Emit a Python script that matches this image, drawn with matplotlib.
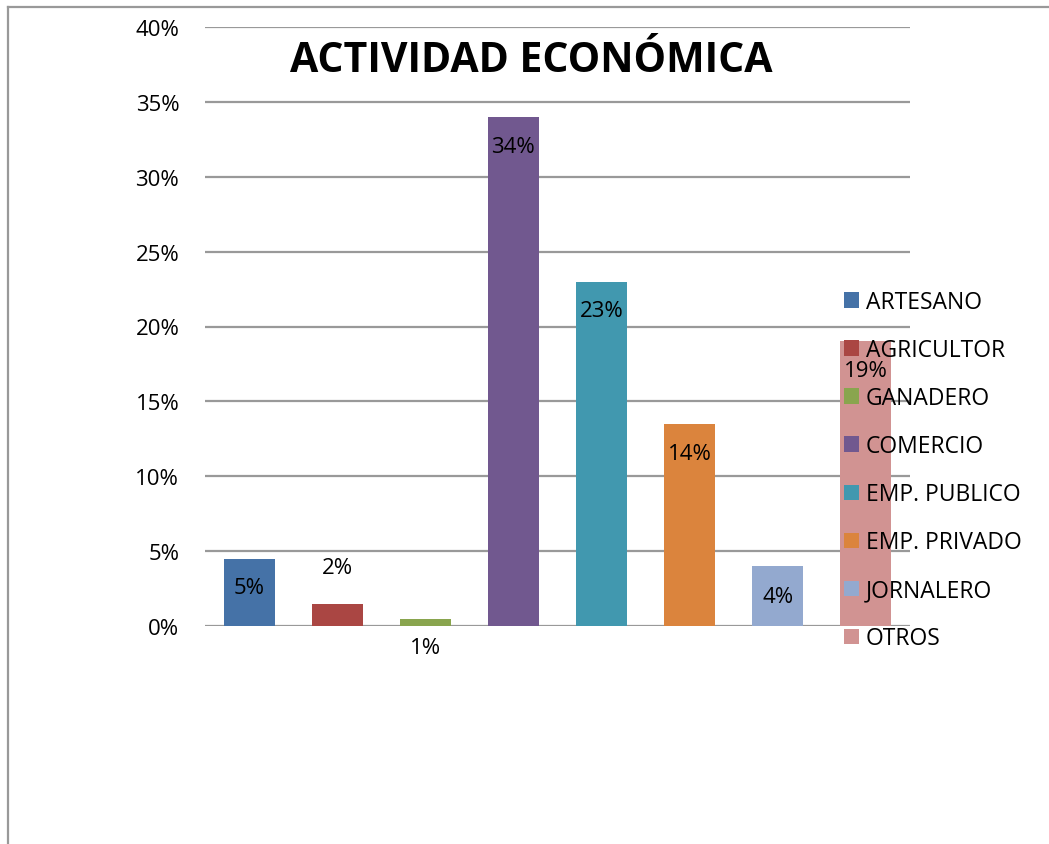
import matplotlib
matplotlib.use("Agg")
import matplotlib.pyplot as plt
from matplotlib.lines import Line2D
from matplotlib.patches import Patch

categories = ["ARTESANO", "AGRICULTOR", "GANADERO", "COMERCIO",
              "EMP. PUBLICO", "EMP. PRIVADO", "JORNALERO", "OTROS"]
values = [4.5, 1.5, 0.5, 34, 23, 13.5, 4, 19]
labels = ["5%", "2%", "1%", "34%", "23%", "14%", "4%", "19%"]
yticks = [0, 5, 10, 15, 20, 25, 30, 35, 40]
ytick_labels = ["0%", "5%", "10%", "15%", "20%", "25%", "30%", "35%", "40%"]
title = "ACTIVIDAD ECONÓMICA"

colors = ["#4572A7", "#AA4643", "#89A54E", "#71588F",
          "#4198AF", "#DB843D", "#93A9CF", "#D19392"]
# vertical pixel offsets of value labels from bar tops
label_offsets = [-29, 36, -29, -30, -29, -30, -30, -29]

FONT = ["Open Sans", "DejaVu Sans"]
plt.rcParams["font.family"] = FONT

W, H = 1049, 845
fig = plt.figure(figsize=(W / 100, H / 100), dpi=100)
ax = fig.add_axes([205 / W, 1 - 627 / H, (910 - 205) / W, (627 - 28) / H])

x = list(range(len(categories)))
bars = ax.bar(x, values, width=0.58, color=colors, zorder=3)
ax.set_xlim(-0.5, len(categories) - 0.5)
ax.set_ylim(0, 40)
ax.set_yticks(yticks)
ax.set_yticklabels(ytick_labels, fontsize=16, color="#000000")
ax.set_xticks([])
ax.tick_params(axis="y", length=0, pad=18.5)
for s in ax.spines.values():
    s.set_visible(False)
ax.yaxis.grid(True, color="#999999", linewidth=1.6, zorder=0)
ax.set_axisbelow(True)

for xi, v, lab, off in zip(x, values, labels, label_offsets):
    ax.annotate(lab, (xi, v), xytext=(0, off), textcoords="offset pixels",
                ha="center", va="center", fontsize=16, color="#000000", zorder=5)

fig.text(531 / W, 1 - 61 / H, title, ha="center", va="center",
         fontsize=29.5, fontweight="bold", color="#000000")

handles = [Patch(facecolor=c, edgecolor="none") for c in colors]
fig.legend(handles, categories, loc="upper left",
           bbox_to_anchor=(844 / W, 1 - 291 / H), frameon=False,
           fontsize=16.5, handlelength=0.65, handleheight=0.65,
           handletextpad=0.3, labelspacing=1.05, borderaxespad=0,
           borderpad=0)

# outer border lines
fig.add_artist(Line2D([8 / W, 1.0], [1 - 8 / H, 1 - 8 / H], color="#999999",
                      linewidth=1.6, transform=fig.transFigure))
fig.add_artist(Line2D([8 / W, 8 / W], [1 - 8 / H, 0.0], color="#999999",
                      linewidth=1.6, transform=fig.transFigure))

fig.savefig("out.png", dpi=100)
